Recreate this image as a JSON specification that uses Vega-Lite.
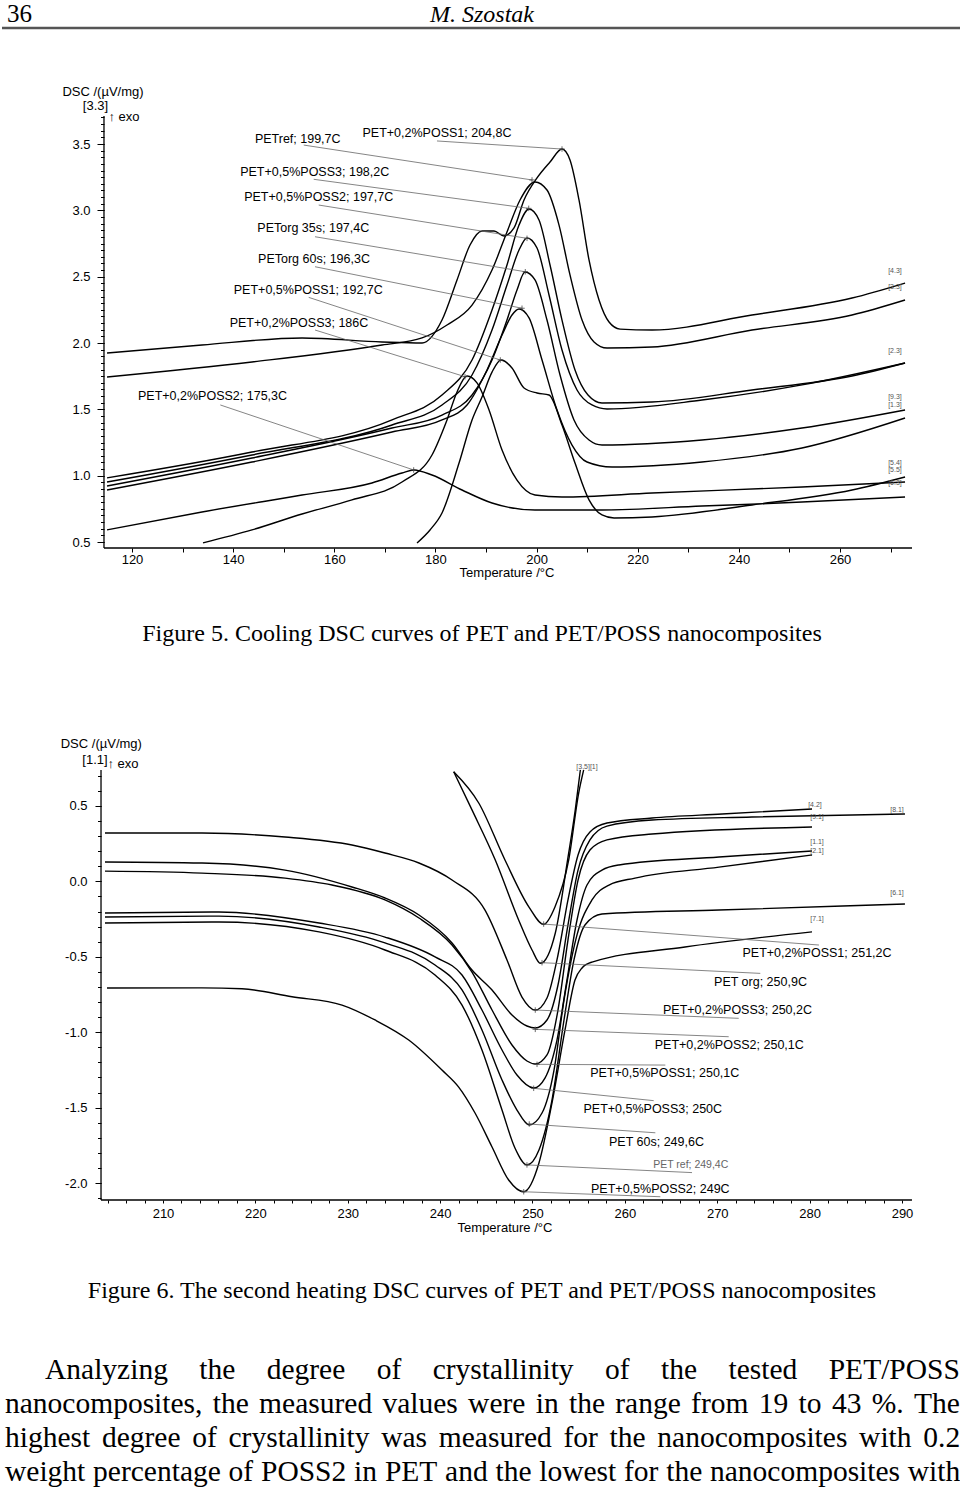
{
"$schema": "https://vega.github.io/schema/vega-lite/v6.json",
"padding": 0,
"spacing": 0,
"bounds": "flush",
"background": "white",
"config": {"view": {"stroke": null}, "axis": {"grid": false, "domain": false, "labelFont": "Liberation Sans", "labelFontSize": 13, "labelColor": "black", "tickColor": "black", "title": null, "labelFlush": false, "labelOverlap": false}},
"datasets": {
"header": [{"k":"num","txt":"36","x":5,"y":22},{"k":"author","txt":"M. Szostak","x":480,"y":22}],
"headrule": [{"x":0,"x2":960,"y":28}],
"cap1": [{"txt":"Figure 5. Cooling DSC curves of PET and PET/POSS nanocomposites","x":480,"y":86}],
"para": [
{"k":"cap","txt":"Figure 6. The second heating DSC curves of PET and PET/POSS nanocomposites","x":480,"y":91},
{"k":"w","txt":"Analyzing","x":43,"y":170},{"k":"w","txt":"the","x":197.3,"y":170},{"k":"w","txt":"degree","x":264.7,"y":170},{"k":"w","txt":"of","x":374.7,"y":170},{"k":"w","txt":"crystallinity","x":430.7,"y":170},{"k":"w","txt":"of","x":603.1,"y":170},{"k":"w","txt":"the","x":659.1,"y":170},{"k":"w","txt":"tested","x":726.5,"y":170},{"k":"w","txt":"PET/POSS","x":826.7,"y":170},
{"k":"w","txt":"nanocomposites,","x":3,"y":204},{"k":"w","txt":"the","x":210.8,"y":204},{"k":"w","txt":"measured","x":257.1,"y":204},{"k":"w","txt":"values","x":380.4,"y":204},{"k":"w","txt":"were","x":466.1,"y":204},{"k":"w","txt":"in","x":533.7,"y":204},{"k":"w","txt":"the","x":567,"y":204},{"k":"w","txt":"range","x":613.3,"y":204},{"k":"w","txt":"from","x":689.1,"y":204},{"k":"w","txt":"19","x":756.8,"y":204},{"k":"w","txt":"to","x":796.6,"y":204},{"k":"w","txt":"43","x":829.9,"y":204},{"k":"w","txt":"%.","x":869.7,"y":204},{"k":"w","txt":"The","x":912,"y":204},
{"k":"w","txt":"highest","x":3,"y":238},{"k":"w","txt":"degree","x":99.9,"y":238},{"k":"w","txt":"of","x":190.2,"y":238},{"k":"w","txt":"crystallinity","x":226.5,"y":238},{"k":"w","txt":"was","x":379.2,"y":238},{"k":"w","txt":"measured","x":436.8,"y":238},{"k":"w","txt":"for","x":561.5,"y":238},{"k":"w","txt":"the","x":607.6,"y":238},{"k":"w","txt":"nanocomposites","x":655.3,"y":238},{"k":"w","txt":"with","x":857.1,"y":238},{"k":"w","txt":"0.2","x":921.3,"y":238},
{"k":"w","txt":"weight","x":3,"y":272},{"k":"w","txt":"percentage","x":91.1,"y":272},{"k":"w","txt":"of","x":226.6,"y":272},{"k":"w","txt":"POSS2","x":259,"y":272},{"k":"w","txt":"in","x":352.1,"y":272},{"k":"w","txt":"PET","x":382.9,"y":272},{"k":"w","txt":"and","x":443.1,"y":272},{"k":"w","txt":"the","x":493.5,"y":272},{"k":"w","txt":"lowest","x":537.2,"y":272},{"k":"w","txt":"for","x":622,"y":272},{"k":"w","txt":"the","x":664.2,"y":272},{"k":"w","txt":"nanocomposites","x":708,"y":272},{"k":"w","txt":"with","x":905.8,"y":272}
],
"c1": [
{"s":"A","t":115.06,"v":1.925},{"s":"A","t":133.84,"v":1.985},{"s":"A","t":153.62,"v":2.038},{"s":"A","t":169.44,"v":2.008},{"s":"A","t":177.35,"v":2.0},{"s":"A","t":181.3,"v":2.173},{"s":"A","t":184.27,"v":2.475},{"s":"A","t":186.84,"v":2.739},{"s":"A","t":189.21,"v":2.844},{"s":"A","t":191.59,"v":2.844},{"s":"A","t":193.56,"v":2.807},{"s":"A","t":195.54,"v":2.867},{"s":"A","t":197.52,"v":3.078},{"s":"A","t":200.09,"v":3.244},{"s":"A","t":202.66,"v":3.364},{"s":"A","t":205.03,"v":3.462},{"s":"A","t":206.61,"v":3.379},{"s":"A","t":208.39,"v":3.078},{"s":"A","t":210.37,"v":2.626},{"s":"A","t":212.35,"v":2.324},{"s":"A","t":214.33,"v":2.158},{"s":"A","t":216.51,"v":2.105},{"s":"A","t":222.83,"v":2.098},{"s":"A","t":242.6,"v":2.211},{"s":"A","t":262.38,"v":2.339},{"s":"A","t":272.86,"v":2.452},
{"s":"B","t":115.06,"v":1.744},{"s":"B","t":143.73,"v":1.857},{"s":"B","t":169.44,"v":1.985},{"s":"B","t":177.35,"v":2.038},{"s":"B","t":182.29,"v":2.136},{"s":"B","t":187.24,"v":2.286},{"s":"B","t":191.19,"v":2.55},{"s":"B","t":194.15,"v":2.837},{"s":"B","t":196.73,"v":3.078},{"s":"B","t":199.69,"v":3.214},{"s":"B","t":202.06,"v":3.153},{"s":"B","t":204.44,"v":2.889},{"s":"B","t":206.61,"v":2.513},{"s":"B","t":208.99,"v":2.173},{"s":"B","t":211.36,"v":2.008},{"s":"B","t":213.93,"v":1.962},{"s":"B","t":222.83,"v":1.97},{"s":"B","t":242.6,"v":2.098},{"s":"B","t":262.38,"v":2.211},{"s":"B","t":272.86,"v":2.324},
{"s":"C","t":115.06,"v":0.983},{"s":"C","t":143.73,"v":1.178},{"s":"C","t":171.41,"v":1.42},{"s":"C","t":181.3,"v":1.608},{"s":"C","t":187.24,"v":1.872},{"s":"C","t":191.19,"v":2.249},{"s":"C","t":194.15,"v":2.588},{"s":"C","t":196.53,"v":2.889},{"s":"C","t":198.51,"v":3.01},{"s":"C","t":200.48,"v":2.927},{"s":"C","t":202.66,"v":2.588},{"s":"C","t":205.03,"v":2.173},{"s":"C","t":207.6,"v":1.797},{"s":"C","t":210.17,"v":1.608},{"s":"C","t":212.94,"v":1.548},{"s":"C","t":222.83,"v":1.555},{"s":"C","t":242.6,"v":1.646},{"s":"C","t":262.38,"v":1.751},{"s":"C","t":272.86,"v":1.849},
{"s":"D","t":115.06,"v":0.952},{"s":"D","t":143.73,"v":1.156},{"s":"D","t":171.41,"v":1.382},{"s":"D","t":181.3,"v":1.533},{"s":"D","t":187.24,"v":1.759},{"s":"D","t":191.19,"v":2.098},{"s":"D","t":194.15,"v":2.437},{"s":"D","t":196.53,"v":2.701},{"s":"D","t":198.11,"v":2.792},{"s":"D","t":200.09,"v":2.716},{"s":"D","t":202.46,"v":2.362},{"s":"D","t":205.03,"v":1.947},{"s":"D","t":208.0,"v":1.646},{"s":"D","t":210.96,"v":1.533},{"s":"D","t":213.93,"v":1.503},{"s":"D","t":232.71,"v":1.57},{"s":"D","t":252.49,"v":1.684},{"s":"D","t":272.86,"v":1.849},
{"s":"E","t":115.06,"v":0.922},{"s":"E","t":143.73,"v":1.133},{"s":"E","t":171.41,"v":1.359},{"s":"E","t":181.3,"v":1.457},{"s":"E","t":187.24,"v":1.608},{"s":"E","t":191.19,"v":1.872},{"s":"E","t":194.15,"v":2.173},{"s":"E","t":196.13,"v":2.4},{"s":"E","t":197.71,"v":2.535},{"s":"E","t":199.69,"v":2.475},{"s":"E","t":202.06,"v":2.173},{"s":"E","t":204.64,"v":1.759},{"s":"E","t":207.4,"v":1.42},{"s":"E","t":210.37,"v":1.269},{"s":"E","t":212.94,"v":1.231},{"s":"E","t":232.71,"v":1.269},{"s":"E","t":252.49,"v":1.359},{"s":"E","t":272.86,"v":1.495},
{"s":"F","t":115.06,"v":0.892},{"s":"F","t":143.73,"v":1.103},{"s":"F","t":171.41,"v":1.329},{"s":"F","t":181.3,"v":1.42},{"s":"F","t":186.25,"v":1.533},{"s":"F","t":190.2,"v":1.797},{"s":"F","t":193.17,"v":2.06},{"s":"F","t":195.14,"v":2.211},{"s":"F","t":196.53,"v":2.256},{"s":"F","t":198.51,"v":2.189},{"s":"F","t":201.08,"v":1.872},{"s":"F","t":204.04,"v":1.495},{"s":"F","t":207.01,"v":1.231},{"s":"F","t":209.98,"v":1.103},{"s":"F","t":214.92,"v":1.065},{"s":"F","t":232.71,"v":1.103},{"s":"F","t":252.49,"v":1.209},{"s":"F","t":272.86,"v":1.435},
{"s":"G","t":176.36,"v":0.493},{"s":"G","t":178.93,"v":0.591},{"s":"G","t":181.3,"v":0.719},{"s":"G","t":184.67,"v":1.095},{"s":"G","t":187.24,"v":1.42},{"s":"G","t":189.21,"v":1.593},{"s":"G","t":191.19,"v":1.781},{"s":"G","t":192.97,"v":1.872},{"s":"G","t":195.14,"v":1.812},{"s":"G","t":197.52,"v":1.661},{"s":"G","t":200.09,"v":1.623},{"s":"G","t":202.46,"v":1.608},{"s":"G","t":205.03,"v":1.382},{"s":"G","t":207.6,"v":1.095},{"s":"G","t":210.37,"v":0.817},{"s":"G","t":212.94,"v":0.704},{"s":"G","t":215.32,"v":0.681},{"s":"G","t":222.83,"v":0.689},{"s":"G","t":242.6,"v":0.779},{"s":"G","t":262.38,"v":0.892},{"s":"G","t":272.86,"v":0.99},
{"s":"H","t":134.04,"v":0.493},{"s":"H","t":143.73,"v":0.591},{"s":"H","t":153.62,"v":0.711},{"s":"H","t":163.5,"v":0.817},{"s":"H","t":173.39,"v":0.952},{"s":"H","t":179.32,"v":1.156},{"s":"H","t":182.29,"v":1.42},{"s":"H","t":184.27,"v":1.631},{"s":"H","t":186.25,"v":1.751},{"s":"H","t":188.22,"v":1.699},{"s":"H","t":190.6,"v":1.495},{"s":"H","t":193.17,"v":1.193},{"s":"H","t":196.13,"v":0.967},{"s":"H","t":199.69,"v":0.854},{"s":"H","t":205.03,"v":0.839},{"s":"H","t":222.83,"v":0.869},{"s":"H","t":252.49,"v":0.915},{"s":"H","t":272.86,"v":0.952},
{"s":"I","t":115.06,"v":0.591},{"s":"I","t":133.84,"v":0.726},{"s":"I","t":153.62,"v":0.854},{"s":"I","t":167.45,"v":0.945},{"s":"I","t":173.39,"v":1.02},{"s":"I","t":175.7,"v":1.043},{"s":"I","t":179.32,"v":1.005},{"s":"I","t":185.26,"v":0.892},{"s":"I","t":191.19,"v":0.794},{"s":"I","t":199.69,"v":0.741},{"s":"I","t":212.94,"v":0.741},{"s":"I","t":232.71,"v":0.771},{"s":"I","t":252.49,"v":0.801},{"s":"I","t":272.86,"v":0.839}
],
"c1v": [{"t":114.46,"v":0.4548,"v2":3.711}],
"c1h": [{"t":114.46,"t2":274.24,"v":0.4548}],
"c1lead": [
{"t1":153.96,"v1":3.492,"t2":199.1,"v2":3.229},{"t1":180.31,"v1":3.523,"t2":205.03,"v2":3.462},{"t1":155.93,"v1":3.234,"t2":198.45,"v2":3.015},{"t1":156.92,"v1":3.04,"t2":198.11,"v2":2.789},{"t1":156.19,"v1":2.801,"t2":197.77,"v2":2.537},{"t1":156.19,"v1":2.575,"t2":197.12,"v2":2.262},{"t1":154.94,"v1":2.344,"t2":192.83,"v2":1.872},{"t1":156.19,"v1":2.098,"t2":185.85,"v2":1.746},{"t1":137.46,"v1":1.533,"t2":175.7,"v2":1.043}
],
"c1lab": [
{"txt":"PETref; 199,7C","t":152.77,"v":3.535},{"txt":"PET+0,2%POSS1; 204,8C","t":180.31,"v":3.585},{"txt":"PET+0,5%POSS3; 198,2C","t":156.13,"v":3.291},{"txt":"PET+0,5%POSS2; 197,7C","t":156.92,"v":3.098},{"txt":"PETorg 35s; 197,4C","t":155.85,"v":2.865},{"txt":"PETorg 60s; 196,3C","t":155.99,"v":2.631},{"txt":"PET+0,5%POSS1; 192,7C","t":154.86,"v":2.399},{"txt":"PET+0,2%POSS3; 186C","t":153.02,"v":2.153},{"txt":"PET+0,2%POSS2; 175,3C","t":135.92,"v":1.601}
],
"c1end": [
{"txt":"[4.3]","t":270.87,"v":2.543},{"txt":"[3.3]","t":270.87,"v":2.422},{"txt":"[2.3]","t":270.87,"v":1.94},{"txt":"[9.3]","t":270.87,"v":1.593},{"txt":"[1.3]","t":270.87,"v":1.533},{"txt":"[5.4]","t":270.87,"v":1.095},{"txt":"[5.5]","t":270.87,"v":1.043},{"txt":"[6.3]","t":270.87,"v":0.945}
],
"c1ax": [
{"txt":"DSC /(µV/mg)","t":114.27,"v":3.894},{"txt":"[3.3]","t":112.78,"v":3.789},{"txt":"↑ exo","t":118.42,"v":3.706},{"txt":"Temperature /°C","t":194.15,"v":0.266}
],
"c2": [
{"s":"a","t":241.47,"v":0.727},{"s":"a","t":244.18,"v":0.52},{"s":"a","t":247.02,"v":0.142},{"s":"a","t":249.62,"v":-0.17},{"s":"a","t":251.21,"v":-0.285},{"s":"a","t":252.43,"v":-0.17},{"s":"a","t":253.92,"v":0.142},{"s":"a","t":255.0,"v":0.586},{"s":"a","t":255.54,"v":0.739},
{"s":"b","t":241.47,"v":0.727},{"s":"b","t":243.45,"v":0.474},{"s":"b","t":245.97,"v":0.142},{"s":"b","t":248.5,"v":-0.256},{"s":"b","t":249.95,"v":-0.455},{"s":"b","t":250.85,"v":-0.543},{"s":"b","t":252.47,"v":-0.342},{"s":"b","t":253.8,"v":0.142},{"s":"b","t":254.63,"v":0.474},{"s":"b","t":255.18,"v":0.739},
{"s":"c","t":203.72,"v":0.321},{"s":"c","t":214.22,"v":0.321},{"s":"c","t":223.21,"v":0.294},{"s":"c","t":230.46,"v":0.241},{"s":"c","t":234.03,"v":0.188},{"s":"c","t":237.71,"v":0.122},{"s":"c","t":241.29,"v":0.009},{"s":"c","t":244.86,"v":-0.19},{"s":"c","t":247.24,"v":-0.521},{"s":"c","t":248.86,"v":-0.767},{"s":"c","t":250.3,"v":-0.853},{"s":"c","t":251.57,"v":-0.773},{"s":"c","t":252.76,"v":-0.488},{"s":"c","t":253.84,"v":-0.123},{"s":"c","t":254.93,"v":0.175},{"s":"c","t":256.22,"v":0.328},{"s":"c","t":258.06,"v":0.387},{"s":"c","t":262.94,"v":0.42},{"s":"c","t":270.52,"v":0.447},{"s":"c","t":280.26,"v":0.48},
{"s":"d","t":203.72,"v":0.129},{"s":"d","t":214.22,"v":0.122},{"s":"d","t":223.21,"v":0.075},{"s":"d","t":230.46,"v":-0.037},{"s":"d","t":234.03,"v":-0.11},{"s":"d","t":237.71,"v":-0.223},{"s":"d","t":241.29,"v":-0.408},{"s":"d","t":243.45,"v":-0.588},{"s":"d","t":245.62,"v":-0.72},{"s":"d","t":247.78,"v":-0.886},{"s":"d","t":249.4,"v":-0.959},{"s":"d","t":250.3,"v":-0.972},{"s":"d","t":251.57,"v":-0.919},{"s":"d","t":252.76,"v":-0.687},{"s":"d","t":253.84,"v":-0.289},{"s":"d","t":254.93,"v":0.075},{"s":"d","t":256.22,"v":0.275},{"s":"d","t":258.06,"v":0.367},{"s":"d","t":262.94,"v":0.407},{"s":"d","t":273.76,"v":0.427},{"s":"d","t":290.32,"v":0.447},
{"s":"e","t":203.72,"v":0.068},{"s":"e","t":214.22,"v":0.055},{"s":"e","t":223.21,"v":0.022},{"s":"e","t":228.3,"v":-0.024},{"s":"e","t":234.03,"v":-0.123},{"s":"e","t":237.71,"v":-0.243},{"s":"e","t":241.29,"v":-0.422},{"s":"e","t":243.45,"v":-0.601},{"s":"e","t":245.62,"v":-0.853},{"s":"e","t":247.78,"v":-1.085},{"s":"e","t":249.4,"v":-1.191},{"s":"e","t":250.3,"v":-1.211},{"s":"e","t":251.57,"v":-1.151},{"s":"e","t":252.76,"v":-0.853},{"s":"e","t":253.84,"v":-0.389},{"s":"e","t":254.93,"v":0.009},{"s":"e","t":256.22,"v":0.208},{"s":"e","t":258.06,"v":0.275},{"s":"e","t":262.94,"v":0.314},{"s":"e","t":280.26,"v":0.361},
{"s":"f","t":203.72,"v":-0.21},{"s":"f","t":216.06,"v":-0.203},{"s":"f","t":226.89,"v":-0.276},{"s":"f","t":234.03,"v":-0.369},{"s":"f","t":239.45,"v":-0.501},{"s":"f","t":242.37,"v":-0.621},{"s":"f","t":244.53,"v":-0.853},{"s":"f","t":246.7,"v":-1.118},{"s":"f","t":248.32,"v":-1.284},{"s":"f","t":250.13,"v":-1.37},{"s":"f","t":251.35,"v":-1.304},{"s":"f","t":252.65,"v":-1.052},{"s":"f","t":253.73,"v":-0.654},{"s":"f","t":254.82,"v":-0.256},{"s":"f","t":255.9,"v":-0.024},{"s":"f","t":257.52,"v":0.075},{"s":"f","t":259.36,"v":0.109},{"s":"f","t":270.19,"v":0.162},{"s":"f","t":280.26,"v":0.202},
{"s":"g","t":203.72,"v":-0.236},{"s":"g","t":216.06,"v":-0.23},{"s":"g","t":226.89,"v":-0.302},{"s":"g","t":234.03,"v":-0.408},{"s":"g","t":239.45,"v":-0.554},{"s":"g","t":242.37,"v":-0.72},{"s":"g","t":244.53,"v":-0.985},{"s":"g","t":246.7,"v":-1.317},{"s":"g","t":248.32,"v":-1.516},{"s":"g","t":249.65,"v":-1.615},{"s":"g","t":251.03,"v":-1.536},{"s":"g","t":252.33,"v":-1.251},{"s":"g","t":253.41,"v":-0.787},{"s":"g","t":254.82,"v":-0.355},{"s":"g","t":256.44,"v":-0.123},{"s":"g","t":258.28,"v":-0.024},{"s":"g","t":261.1,"v":0.022},{"s":"g","t":270.19,"v":0.095},{"s":"g","t":280.26,"v":0.175},
{"s":"h","t":203.72,"v":-0.276},{"s":"h","t":216.06,"v":-0.269},{"s":"h","t":226.89,"v":-0.335},{"s":"h","t":234.03,"v":-0.455},{"s":"h","t":239.45,"v":-0.621},{"s":"h","t":242.37,"v":-0.82},{"s":"h","t":244.53,"v":-1.118},{"s":"h","t":246.7,"v":-1.516},{"s":"h","t":248.1,"v":-1.768},{"s":"h","t":249.4,"v":-1.88},{"s":"h","t":250.7,"v":-1.781},{"s":"h","t":252.11,"v":-1.45},{"s":"h","t":253.41,"v":-0.919},{"s":"h","t":254.49,"v":-0.521},{"s":"h","t":255.68,"v":-0.289},{"s":"h","t":257.52,"v":-0.216},{"s":"h","t":270.19,"v":-0.19},{"s":"h","t":290.32,"v":-0.15},
{"s":"i","t":203.94,"v":-0.707},{"s":"i","t":214.2,"v":-0.706},{"s":"i","t":218.55,"v":-0.712},{"s":"i","t":223.96,"v":-0.765},{"s":"i","t":229.38,"v":-0.82},{"s":"i","t":232.95,"v":-0.919},{"s":"i","t":236.6,"v":-1.052},{"s":"i","t":240.2,"v":-1.251},{"s":"i","t":242.01,"v":-1.364},{"s":"i","t":243.78,"v":-1.536},{"s":"i","t":245.62,"v":-1.761},{"s":"i","t":247.42,"v":-1.98},{"s":"i","t":249.05,"v":-2.058},{"s":"i","t":250.7,"v":-1.867},{"s":"i","t":252.11,"v":-1.469},{"s":"i","t":253.52,"v":-0.985},{"s":"i","t":254.6,"v":-0.654},{"s":"i","t":255.36,"v":-0.574},{"s":"i","t":256.44,"v":-0.535},{"s":"i","t":266.51,"v":-0.435},{"s":"i","t":280.26,"v":-0.335}
],
"c2v": [{"t":203.29,"v":-2.1127,"v2":0.7387}],
"c2h": [{"t":203.29,"t2":291.08,"v":-2.1127}],
"c2lead": [
{"t1":251.21,"v1":-0.283,"t2":281.01,"v2":-0.422},{"t1":251.03,"v1":-0.539,"t2":274.66,"v2":-0.61},{"t1":250.3,"v1":-0.853,"t2":272.32,"v2":-0.908},{"t1":250.3,"v1":-0.981,"t2":271.24,"v2":-1.03},{"t1":250.49,"v1":-1.213,"t2":264.38,"v2":-1.218},{"t1":250.13,"v1":-1.372,"t2":263.12,"v2":-1.454},{"t1":249.65,"v1":-1.609,"t2":263.3,"v2":-1.667},{"t1":249.4,"v1":-1.88,"t2":267.27,"v2":-1.931},{"t1":249.05,"v1":-2.058,"t2":263.84,"v2":-2.091}
],
"c2lab": [
{"txt":"PET+0,2%POSS1; 251,2C","t":280.8,"v":-0.473,"sm":false},{"txt":"PET org; 250,9C","t":274.68,"v":-0.665,"sm":false},{"txt":"PET+0,2%POSS3; 250,2C","t":272.19,"v":-0.853,"sm":false},{"txt":"PET+0,2%POSS2; 250,1C","t":271.3,"v":-1.085,"sm":false},{"txt":"PET+0,5%POSS1; 250,1C","t":264.32,"v":-1.273,"sm":false},{"txt":"PET+0,5%POSS3; 250C","t":263.02,"v":-1.509,"sm":false},{"txt":"PET 60s; 249,6C","t":263.42,"v":-1.726,"sm":false},{"txt":"PET ref; 249,4C","t":267.13,"v":-1.88,"sm":true},{"txt":"PET+0,5%POSS2; 249C","t":263.84,"v":-2.042,"sm":false}
],
"c2end": [
{"txt":"[4.2]","t":280.58,"v":0.507},{"txt":"[9.1]","t":280.8,"v":0.429},{"txt":"[8.1]","t":289.46,"v":0.474},{"txt":"[1.1]","t":280.8,"v":0.263},{"txt":"[2.1]","t":280.8,"v":0.204},{"txt":"[6.1]","t":289.46,"v":-0.079},{"txt":"[7.1]","t":280.8,"v":-0.251},{"txt":"[3.5][1]","t":255.9,"v":0.757}
],
"c2ax": [
{"txt":"DSC /(µV/mg)","t":203.32,"v":0.911},{"txt":"[1.1]","t":202.64,"v":0.805},{"txt":"↑ exo","t":205.67,"v":0.777},{"txt":"Temperature /°C","t":247.02,"v":-2.298}
]
},
"vconcat": [
{
"width": 960, "height": 100,
"data": {"name": "header"},
"encoding": {
"x": {"field": "x", "type": "quantitative", "scale": {"domain": [0, 960], "nice": false, "zero": false}, "axis": null},
"y": {"field": "y", "type": "quantitative", "scale": {"domain": [0, 100], "nice": false, "zero": false, "reverse": true}, "axis": null}
},
"layer": [
{"transform": [{"filter": "datum.k === 'num'"}], "mark": {"type": "text", "align": "left", "baseline": "alphabetic", "font": "Liberation Serif", "fontSize": 25, "color": "black"}, "encoding": {"text": {"field": "txt"}}},
{"transform": [{"filter": "datum.k === 'author'"}], "mark": {"type": "text", "align": "center", "baseline": "alphabetic", "font": "Liberation Serif", "fontStyle": "italic", "fontSize": 24, "color": "black"}, "encoding": {"text": {"field": "txt"}}},
{"data": {"name": "headrule"}, "mark": {"type": "rule", "stroke": "#555555", "strokeWidth": 2.5}, "encoding": {"x2": {"field": "x2"}}}
]
},
{
"width": 960, "height": 448,
"layer": [
{"data": {"name": "c1"}, "mark": {"type": "line", "interpolate": "monotone", "color": "black", "strokeWidth": 1.4},
"encoding": {
"x": {"field": "t", "type": "quantitative", "scale": {"domain": [94.294, 284.124], "nice": false, "zero": false},
"axis": {"orient": "bottom", "values": [120,130,140,150,160,170,180,190,200,210,220,230,240,250,260,270], "labelExpr": "datum.value % 20 === 0 ? datum.label : ''", "tickSize": 4, "labelPadding": 1, "domain": false, "grid": false, "title": null}},
"y": {"field": "v", "type": "quantitative", "scale": {"domain": [0.4548, 3.8317], "nice": false, "zero": false},
"axis": {"orient": "left", "offset": -102, "values": [0.5,1,1.5,2,2.5,3,3.5], "format": ".1f", "tickSize": 7, "labelPadding": 7, "domain": false, "grid": false, "title": null}},
"detail": {"field": "s"}
}},
{"data": {"name": "c1v"}, "mark": {"type": "rule", "color": "black", "strokeWidth": 1.3},
"encoding": {
"x": {"field": "t", "type": "quantitative", "axis": null},
"y": {"field": "v", "type": "quantitative", "axis": {"orient": "left", "offset": -102, "values": [0.5,0.55,0.6,0.65,0.7,0.75,0.8,0.85,0.9,0.95,1,1.05,1.1,1.15,1.2,1.25,1.3,1.35,1.4,1.45,1.5,1.55,1.6,1.65,1.7,1.75,1.8,1.85,1.9,1.95,2,2.05,2.1,2.15,2.2,2.25,2.3,2.35,2.4,2.45,2.5,2.55,2.6,2.65,2.7,2.75,2.8,2.85,2.9,2.95,3,3.05,3.1,3.15,3.2,3.25,3.3,3.35,3.4,3.45,3.5,3.55,3.6,3.65,3.7], "labels": false, "tickSize": 3.5, "domain": false, "grid": false, "title": null}},
"y2": {"field": "v2"}
}},
{"data": {"name": "c1h"}, "mark": {"type": "rule", "color": "black", "strokeWidth": 1.3},
"encoding": {"x": {"field": "t", "type": "quantitative", "axis": null}, "x2": {"field": "t2"}, "y": {"field": "v", "type": "quantitative", "axis": null}}},
{"data": {"name": "c1lead"}, "mark": {"type": "rule", "color": "#666666", "strokeWidth": 0.8},
"encoding": {"x": {"field": "t1", "type": "quantitative", "axis": null}, "x2": {"field": "t2"}, "y": {"field": "v1", "type": "quantitative", "axis": null}, "y2": {"field": "v2"}}},
{"data": {"name": "c1lead"}, "mark": {"type": "point", "shape": "M-1,0L1,0M0,-1L0,1", "size": 30, "filled": false, "color": "#444444", "strokeWidth": 0.8, "opacity": 1},
"encoding": {"x": {"field": "t2", "type": "quantitative", "axis": null}, "y": {"field": "v2", "type": "quantitative", "axis": null}}},
{"data": {"name": "c1lab"}, "mark": {"type": "text", "font": "Liberation Sans", "fontSize": 12.5, "align": "center", "baseline": "middle", "color": "black"},
"encoding": {"x": {"field": "t", "type": "quantitative", "axis": null}, "y": {"field": "v", "type": "quantitative", "axis": null}, "text": {"field": "txt"}}},
{"data": {"name": "c1end"}, "mark": {"type": "text", "font": "Liberation Sans", "fontSize": 7, "align": "center", "baseline": "middle", "color": "#555555"},
"encoding": {"x": {"field": "t", "type": "quantitative", "axis": null}, "y": {"field": "v", "type": "quantitative", "axis": null}, "text": {"field": "txt"}}},
{"data": {"name": "c1ax"}, "mark": {"type": "text", "font": "Liberation Sans", "fontSize": 13, "align": "center", "baseline": "middle", "color": "black"},
"encoding": {"x": {"field": "t", "type": "quantitative", "axis": null}, "y": {"field": "v", "type": "quantitative", "axis": null}, "text": {"field": "txt"}}}
],
"resolve": {"axis": {"x": "independent", "y": "independent"}}
},
{
"width": 960, "height": 222,
"data": {"name": "cap1"},
"mark": {"type": "text", "align": "center", "baseline": "middle", "font": "Liberation Serif", "fontSize": 24, "color": "black"},
"encoding": {
"x": {"field": "x", "type": "quantitative", "scale": {"domain": [0, 960], "nice": false, "zero": false}, "axis": null},
"y": {"field": "y", "type": "quantitative", "scale": {"domain": [0, 222], "nice": false, "zero": false, "reverse": true}, "axis": null},
"text": {"field": "txt"}
}
},
{
"width": 960, "height": 430,
"layer": [
{"data": {"name": "c2"}, "mark": {"type": "line", "interpolate": "monotone", "color": "black", "strokeWidth": 1.4},
"encoding": {
"x": {"field": "t", "type": "quantitative", "scale": {"domain": [192.571, 296.496], "nice": false, "zero": false},
"axis": {"orient": "bottom", "values": [204,206,208,210,212,214,216,218,220,222,224,226,228,230,232,234,236,238,240,242,244,246,248,250,252,254,256,258,260,262,264,266,268,270,272,274,276,278,280,282,284,286,288,290], "labelExpr": "datum.value % 10 === 0 ? datum.label : ''", "tickSize": 3, "labelPadding": 4, "domain": false, "grid": false, "title": null}},
"y": {"field": "v", "type": "quantitative", "scale": {"domain": [-2.1127, 0.7387], "nice": false, "zero": false},
"axis": {"orient": "left", "offset": -99, "values": [-2,-1.5,-1,-0.5,0,0.5], "labelExpr": "replace(format(datum.value, '.1f'), '\u2212', '-')", "tickSize": 6, "labelPadding": 8, "domain": false, "grid": false, "title": null}},
"detail": {"field": "s"}
}},
{"data": {"name": "c2v"}, "mark": {"type": "rule", "color": "black", "strokeWidth": 1.3},
"encoding": {
"x": {"field": "t", "type": "quantitative", "axis": null},
"y": {"field": "v", "type": "quantitative", "axis": {"orient": "left", "offset": -99, "values": [-2.1,-2,-1.9,-1.8,-1.7,-1.6,-1.5,-1.4,-1.3,-1.2,-1.1,-1,-0.9,-0.8,-0.7,-0.6,-0.5,-0.4,-0.3,-0.2,-0.1,0,0.1,0.2,0.3,0.4,0.5,0.6,0.7], "labels": false, "tickSize": 3.5, "domain": false, "grid": false, "title": null}},
"y2": {"field": "v2"}
}},
{"data": {"name": "c2h"}, "mark": {"type": "rule", "color": "black", "strokeWidth": 1.3},
"encoding": {"x": {"field": "t", "type": "quantitative", "axis": null}, "x2": {"field": "t2"}, "y": {"field": "v", "type": "quantitative", "axis": null}}},
{"data": {"name": "c2lead"}, "mark": {"type": "rule", "color": "#666666", "strokeWidth": 0.8},
"encoding": {"x": {"field": "t1", "type": "quantitative", "axis": null}, "x2": {"field": "t2"}, "y": {"field": "v1", "type": "quantitative", "axis": null}, "y2": {"field": "v2"}}},
{"data": {"name": "c2lead"}, "mark": {"type": "point", "shape": "M-1,0L1,0M0,-1L0,1", "size": 30, "filled": false, "color": "#444444", "strokeWidth": 0.8, "opacity": 1},
"encoding": {"x": {"field": "t1", "type": "quantitative", "axis": null}, "y": {"field": "v1", "type": "quantitative", "axis": null}}},
{"data": {"name": "c2lab"}, "transform": [{"filter": "!datum.sm"}], "mark": {"type": "text", "font": "Liberation Sans", "fontSize": 12.5, "align": "center", "baseline": "middle", "color": "black"},
"encoding": {"x": {"field": "t", "type": "quantitative", "axis": null}, "y": {"field": "v", "type": "quantitative", "axis": null}, "text": {"field": "txt"}}},
{"data": {"name": "c2lab"}, "transform": [{"filter": "datum.sm"}], "mark": {"type": "text", "font": "Liberation Sans", "fontSize": 10.5, "align": "center", "baseline": "middle", "color": "#666666"},
"encoding": {"x": {"field": "t", "type": "quantitative", "axis": null}, "y": {"field": "v", "type": "quantitative", "axis": null}, "text": {"field": "txt"}}},
{"data": {"name": "c2end"}, "mark": {"type": "text", "font": "Liberation Sans", "fontSize": 7, "align": "center", "baseline": "middle", "color": "#555555"},
"encoding": {"x": {"field": "t", "type": "quantitative", "axis": null}, "y": {"field": "v", "type": "quantitative", "axis": null}, "text": {"field": "txt"}}},
{"data": {"name": "c2ax"}, "mark": {"type": "text", "font": "Liberation Sans", "fontSize": 13, "align": "center", "baseline": "middle", "color": "black"},
"encoding": {"x": {"field": "t", "type": "quantitative", "axis": null}, "y": {"field": "v", "type": "quantitative", "axis": null}, "text": {"field": "txt"}}}
],
"resolve": {"axis": {"x": "independent", "y": "independent"}}
},
{
"width": 960, "height": 290,
"data": {"name": "para"},
"encoding": {
"x": {"field": "x", "type": "quantitative", "scale": {"domain": [0, 960], "nice": false, "zero": false}, "axis": null},
"y": {"field": "y", "type": "quantitative", "scale": {"domain": [0, 290], "nice": false, "zero": false, "reverse": true}, "axis": null},
"text": {"field": "txt"}
},
"layer": [
{"transform": [{"filter": "datum.k === 'cap'"}], "mark": {"type": "text", "align": "center", "baseline": "middle", "font": "Liberation Serif", "fontSize": 24, "color": "black"}},
{"transform": [{"filter": "datum.k === 'w'"}], "mark": {"type": "text", "align": "left", "baseline": "middle", "font": "Liberation Serif", "fontSize": 29.5, "color": "black"}}
]
}
]
}
